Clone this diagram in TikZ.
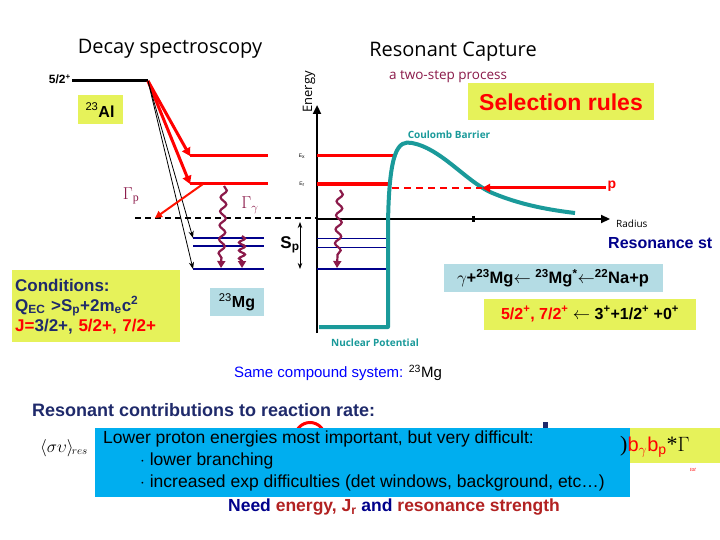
\documentclass[tikz,border=0pt]{standalone}
\usepackage{fontspec}
\setmainfont{Liberation Sans}
\newfontfamily\osans{Open Sans}
\newfontfamily\tms{Liberation Serif}
\usetikzlibrary{arrows.meta,decorations.pathmorphing}
\definecolor{teal2}{HTML}{1A9A9A}
\definecolor{wine}{HTML}{8B1A4A}
\definecolor{navy}{HTML}{1F2A6B}
\definecolor{dblue}{HTML}{00008B}
\definecolor{yel}{HTML}{E6F25A}
\definecolor{lblue}{HTML}{B4DCE4}
\definecolor{sky}{HTML}{00AEEF}
\definecolor{dred}{HTML}{B22222}
\newcommand{\sps}[1]{\textsuperscript{#1}}
\newcommand{\sbs}[1]{\textsubscript{#1}}
\tikzset{
 redlev/.style={draw=red,line width=3pt},
 bluelev/.style={draw=dblue,line width=1.8pt},
 thinblue/.style={draw=dblue,line width=0.6pt},
 redarr/.style={draw=red,line width=3pt,-{Triangle[length=8pt,width=9pt]}},
 blkarr/.style={draw=black,line width=0.8pt,-{Stealth[length=7pt]}},
 wavy/.style={draw=wine,line width=2.2pt,-{Triangle[length=7pt,width=8pt]},decorate,decoration={snake,amplitude=3pt,segment length=14pt,post length=7pt}},
 box/.style={inner sep=3pt,font=\bfseries},
 lbl/.style={inner sep=0pt},
}
\begin{document}
\begin{tikzpicture}[x=1pt,y=-1pt]
\useasboundingbox[fill=white] (0,0) rectangle (720,540);
% titles
\node[lbl,font=\osans\fontsize{20}{24}\selectfont] (t1) at (170,49) {Decay spectroscopy};
\node[lbl,font=\osans\fontsize{20}{24}\selectfont] (t2) at (453,52) {Resonant Capture};
\node[lbl,font=\osans\fontsize{13.5}{16}\selectfont,text=wine] (t3) at (448,77) {a two-step process};
\node[box,fill=yel,text=red,font=\bfseries\fontsize{23}{27}\selectfont,minimum width=186pt,minimum height=37pt] (sel) at (561,102) {Selection rules};
% left decay scheme
\coordinate (a1) at (72,81); \coordinate (a2) at (148,81);
\draw[line width=3pt] (a1) -- (a2);
\node[lbl,font=\bfseries\fontsize{12}{14}\selectfont,anchor=east] (jal) at (71,79) {5/2\sps{+}};
\node[box,fill=yel,font=\fontsize{16}{19}\selectfont,minimum width=45pt,minimum height=29pt] (al) at (100,110) {\sps{23}\textbf{Al}};
\coordinate (r1a) at (190,156); \coordinate (r1b) at (268,156);
\coordinate (r2a) at (190,184); \coordinate (r2b) at (268,184);
\draw[redlev] (r1a) -- (r1b); \draw[redlev] (r2a) -- (r2b);
\draw[redarr] (a2) -- (r1a); \draw[redarr] (a2) -- (r2a);
\coordinate (b1a) at (193,238); \coordinate (b1b) at (264,238);
\coordinate (b2a) at (193,246); \coordinate (b2b) at (264,246);
\coordinate (b3a) at (193,269); \coordinate (b3b) at (264,269);
\draw[bluelev] (b1a) -- (b1b); \draw[bluelev] (b2a) -- (b2b); \draw[bluelev] (b3a) -- (b3b);
\coordinate (d1) at (135,218); \coordinate (d2) at (317,218);
\draw[line width=1.5pt,dashed,dash pattern=on 6pt off 4pt] (d1) -- (d2);
\draw[blkarr] (a2) -- (b1a); \draw[blkarr] (a2) -- (b3a);
\coordinate (gp1) at (203,184); \coordinate (gp2) at (155,218);
\draw[draw=red!85!orange,line width=2pt,-{Triangle[length=7pt,width=7pt]}] (gp1) -- (gp2);
\node[lbl,text=wine,font=\tms\fontsize{17}{20}\selectfont] (gpl) at (131,196) {$\Gamma$\sbs{p}};
\node[lbl,text=wine,font=\tms\fontsize{17}{20}\selectfont] (ggl) at (250,205) {$\Gamma$\sbs{$\gamma$}};
\coordinate (w1s) at (224,186); \coordinate (w1e) at (221,268);
\draw[wavy] (w1s) -- (w1e);
\coordinate (w2s) at (242,236); \coordinate (w2e) at (242,268);
\draw[wavy,decoration={snake,amplitude=3pt,segment length=8pt,post length=6pt}] (w2s) -- (w2e);
\coordinate (sp1) at (300,222); \coordinate (sp2) at (300,269);
\draw[line width=1pt,{Stealth[length=6pt]}-{Stealth[length=6pt]}] (sp1) -- (sp2);
\node[lbl,font=\bfseries\fontsize{17}{20}\selectfont] (spl) at (290,245) {S\sbs{p}};
\node[box,fill=yel,text=navy,font=\bfseries\fontsize{17}{20}\selectfont,align=left,anchor=north west,minimum width=168pt,minimum height=72pt,text width=162pt] (cond) at (12,270)
 {Conditions:\\Q\sbs{EC} >S\sbs{p}+2m\sbs{e}c\sps{2}\\\textcolor{red}{J=}3/2+, \textcolor{red}{5/2+, 7/2+}};
\node[box,fill=lblue,font=\fontsize{16}{19}\selectfont,minimum width=54pt,minimum height=28pt] (mg) at (237,302) {\sps{23}\textbf{Mg}};
% right potential
\coordinate (ax0) at (317,333); \coordinate (axt) at (317,105);
\draw[line width=2.5pt,-{Triangle[length=9pt,width=8pt]}] (ax0) -- (axt);
\node[lbl,rotate=90,font=\osans\fontsize{13}{15}\selectfont] (en) at (309,92) {Energy};
\coordinate (hx0) at (317,219); \coordinate (hx1) at (610,219);
\draw[line width=2.5pt,-{Triangle[length=9pt,width=8pt]}] (hx0) -- (hx1);
\draw[line width=3pt] (387,219) -- (389,219) (473,216) -- (473,222);
\node[lbl,font=\osans\fontsize{10}{12}\selectfont,anchor=west] (rad) at (616,224) {Radius};
\node[lbl,font=\tiny] (ex) at (302,156) {E$_{\mathrm x}$};
\node[lbl,font=\tiny] (er) at (302,184) {E$_{\mathrm r}$};
\coordinate (q1) at (317,156); \coordinate (q2) at (395,156);
\coordinate (q3) at (317,184); \coordinate (q4) at (388,184);
\draw[redlev] (q1) -- (q2); \draw[redlev,line width=4pt] (q3) -- (q4);
\coordinate (n1) at (317,238); \coordinate (n2) at (388,238);
\coordinate (n3) at (317,247); \coordinate (n4) at (388,247);
\coordinate (n5) at (317,269); \coordinate (n6) at (388,269);
\draw[thinblue] (n1) -- (n2); \draw[thinblue] (n3) -- (n4); \draw[bluelev,line width=1.5pt] (n5) -- (n6);
\draw[teal2,line width=4pt,line join=round] (319,327) -- (388,327) -- (388,225)
  .. controls (389,150) and (398,140) .. (412,143)
  .. controls (440,148) and (465,180) .. (490,192)
  .. controls (520,205) and (550,210) .. (575,213);
\coordinate (pd1) at (392,188); \coordinate (pd2) at (482,188); \coordinate (pe) at (606,188);
\draw[red,line width=2pt,dashed,dash pattern=on 7pt off 5pt] (pd1) -- (pd2);
\draw[red,line width=3pt,-{Triangle[length=8pt,width=8pt]}] (pe) -- (pd2);
\node[lbl,text=red,font=\bfseries\fontsize{14}{16}\selectfont] (pl) at (612,186) {p};
\coordinate (w3s) at (340,190); \coordinate (w3e) at (337,268);
\draw[wavy] (w3s) -- (w3e);
\node[lbl,text=teal2,font=\osans\bfseries\fontsize{10}{12}\selectfont] (cb) at (449,135) {Coulomb Barrier};
\node[lbl,text=teal2,font=\osans\bfseries\fontsize{10}{12}\selectfont] (np) at (375,343) {Nuclear Potential};
\node[lbl,text=dblue,font=\bfseries\fontsize{16}{19}\selectfont,anchor=west] (rs) at (608,243) {Resonance st};
\node[box,fill=lblue,font=\bfseries\fontsize{16.5}{19}\selectfont,minimum width=219pt,minimum height=28pt,inner sep=1pt] (rx) at (553,278) {$\gamma$+\sps{23}Mg$\leftarrow$ \sps{23}Mg\sps{*}$\leftarrow$\sps{22}Na+p};
\node[box,fill=yel,font=\bfseries\fontsize{16}{19}\selectfont,minimum width=212pt,minimum height=31pt] (sr) at (590,314) {\textcolor{red}{5/2\sps{+}, 7/2\sps{+}} $\leftarrow$ 3\sps{+}+1/2\sps{+} +0\sps{+}};
\node[lbl,font=\fontsize{15}{18}\selectfont] (same) at (338,373) {\textcolor{blue}{Same compound system:} \sps{23}Mg};
% bottom
\node[lbl,text=navy,font=\bfseries\fontsize{18}{21}\selectfont,anchor=west] (rc) at (32,410) {Resonant contributions to reaction rate:};
\node[lbl,font=\fontsize{16}{18}\selectfont,anchor=west] (sv) at (40,448) {$\langle\sigma\upsilon\rangle_{\!res}$};
\draw[red,line width=3pt] (294,442) .. controls (294,416) and (326,416) .. (326,442);
\fill[navy] (543,422) rectangle (548,428);
\node[fill=yel,minimum width=90pt,minimum height=35pt,inner sep=0pt] (yb) at (675,445) {};
\node[lbl,text=red,font=\tiny\itshape] (tot) at (693,470) {tot};
\node[fill=sky,minimum width=535pt,minimum height=69pt,inner sep=0pt,anchor=north west] (bl) at (95,428) {};
\node[lbl,anchor=west,font=\tms\fontsize{22}{26}\selectfont] (bb) at (620,447) {)\textcolor{red}{\fontspec{Liberation Sans}\fontsize{20}{24}\selectfont b\sbs{$\gamma$}b\sbs{p}}*$\Gamma$};
\node[lbl,anchor=north west,align=left,font=\fontsize{17.5}{22}\selectfont] (blt) at (103,431)
 {Lower proton energies most important, but very difficult:\\
 \hspace*{37pt}$\cdot$ lower branching\\
 \hspace*{37pt}$\cdot$ increased exp difficulties (det windows, background, etc…)};
\node[lbl,font=\bfseries\fontsize{17.5}{20}\selectfont,text=dblue] (need) at (394,507) {Need \textcolor{dred}{energy, J\sbs{r}} and \textcolor{dred}{resonance strength}};
\end{tikzpicture}
\end{document}
